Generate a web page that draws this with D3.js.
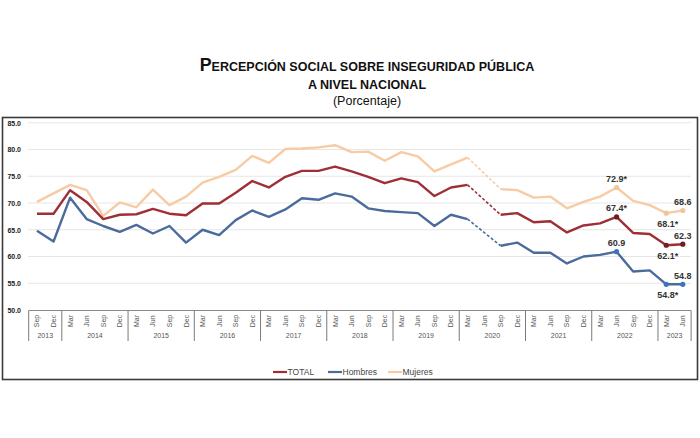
<!DOCTYPE html>
<html><head><meta charset="utf-8">
<script src="https://cdn.jsdelivr.net/npm/d3@7"></script>
<style>body{margin:0;background:#fff;} svg{display:block;font-family:"Liberation Sans",Arial,sans-serif;}</style>
</head><body>
<svg id="c" width="700" height="438"></svg>
<script>
const months = ["Sep","Dec","Mar","Jun","Sep","Dec","Mar","Jun","Sep","Dec","Mar","Jun","Sep","Dec","Mar","Jun","Sep","Dec","Mar","Jun","Sep","Dec","Mar","Jun","Sep","Dec","Mar","Jun","Sep","Dec","Mar","Jun","Sep","Dec","Mar","Jun","Sep","Dec","Mar","Jun"];
const years = ["2013","2013","2014","2014","2014","2014","2015","2015","2015","2015","2016","2016","2016","2016","2017","2017","2017","2017","2018","2018","2018","2018","2019","2019","2019","2019","2020","2020","2020","2020","2021","2021","2021","2021","2022","2022","2022","2022","2023","2023"];
const total = [68.0,68.0,72.4,70.2,67.0,67.8,67.9,68.9,68.0,67.7,69.9,69.9,71.9,74.1,72.9,74.9,76.0,76.0,76.8,75.9,74.9,73.7,74.6,73.9,71.3,72.9,73.4,null,67.8,68.1,66.4,66.6,64.5,65.8,66.2,67.4,64.4,64.2,62.1,62.3];
const hombres = [64.8,62.8,71.0,67.0,65.7,64.6,65.9,64.3,65.7,62.6,65.0,64.0,66.8,68.6,67.4,68.8,70.9,70.6,71.8,71.2,69.0,68.5,68.3,68.1,65.7,67.8,67.0,null,62.0,62.6,60.7,60.7,58.7,60.0,60.3,60.9,57.2,57.4,54.8,54.8];
const mujeres = [70.2,71.8,73.4,72.4,67.6,70.1,69.2,72.5,69.6,71.2,73.8,74.9,76.2,78.8,77.5,80.1,80.2,80.4,80.8,79.5,79.6,77.9,79.5,78.7,75.9,77.2,78.5,null,72.6,72.4,71.0,71.2,69.0,70.2,71.2,72.9,70.4,69.6,68.1,68.6];
const yTicks = [50,55,60,65,70,75,80,85];
const seriesNames = ["TOTAL","Hombres","Mujeres"];
const markerIdx = [35,38,39];
const labels = [
  {s:2,i:35,t:"72.9*",pos:"above"},{s:0,i:35,t:"67.4*",pos:"above"},{s:1,i:35,t:"60.9",pos:"above"},
  {s:2,i:38,t:"68.1*",pos:"below"},{s:0,i:38,t:"62.1*",pos:"below"},{s:1,i:38,t:"54.8*",pos:"below"},
  {s:2,i:39,t:"68.6",pos:"above"},{s:0,i:39,t:"62.3",pos:"above"},{s:1,i:39,t:"54.8",pos:"above"}
];

const colors = ["#9e2f36","#4a6b9b","#f7cba4"];
const dotColors = ["#6e1f22","#3f73bd","#f2c49b"];
const data = [total,hombres,mujeres];

const svg = d3.select("#c");
// frame
svg.append("rect").attr("x",2.5).attr("y",117.5).attr("width",695).attr("height",262).attr("fill","none").attr("stroke","#3a3a3a").attr("stroke-width",1.6);

// title (manual small caps)
const t1 = svg.append("text").attr("x",367).attr("y",70.5).attr("text-anchor","middle").attr("font-weight","bold").attr("fill","#111");
t1.append("tspan").attr("font-size",17.8).text("P");
t1.append("tspan").attr("font-size",12.5).text("ERCEPCIÓN SOCIAL SOBRE INSEGURIDAD PÚBLICA");
svg.append("text").attr("x",367).attr("y",88.5).attr("text-anchor","middle").attr("font-weight","bold").attr("fill","#111")
  .attr("font-size",12.5).text("A NIVEL NACIONAL");
svg.append("text").attr("x",367).attr("y",105).attr("text-anchor","middle").attr("font-size",12.5).attr("fill","#111").text("(Porcentaje)");

const idx = d3.range(months.length);
const x = d3.scaleBand().domain(idx).range([28.7,691.1]).padding(0);
const y = d3.scaleLinear().domain([50,85]).range([310,122.75]);
const cx = i => x(i) + x.bandwidth()/2;

// gridlines
svg.append("g").selectAll("line").data(yTicks.slice(1)).join("line")
  .attr("x1",28).attr("x2",691).attr("y1",d=>y(d)).attr("y2",d=>y(d))
  .attr("stroke","#e6e6e6").attr("stroke-width",1);

// y axis labels
const yAxis = d3.axisLeft(y).tickValues(yTicks).tickFormat(d3.format(".1f")).tickSize(0).tickPadding(0);
const ga = svg.append("g").attr("transform","translate(21,0)").call(yAxis);
ga.select(".domain").remove();
ga.selectAll("text").attr("font-size",7).attr("font-weight","bold").attr("fill","#222").attr("font-family","Liberation Sans, Arial, sans-serif");

// x axis line
svg.append("line").attr("x1",28.7).attr("x2",691.1).attr("y1",310.5).attr("y2",310.5).attr("stroke","#8a8a8a").attr("stroke-width",1);

// month labels
svg.append("g").selectAll("text").data(idx).join("text")
  .attr("transform",i=>`translate(${cx(i)+2.5},321) rotate(-90)`)
  .attr("text-anchor","middle").attr("font-size",7).attr("fill","#555").text(i=>months[i]);

// year separators and labels
const yearGroups = d3.groups(idx, i=>years[i]);
const seps = yearGroups.map(g=>x(g[1][0])).concat([x(idx[idx.length-1])+x.bandwidth()]);
svg.append("g").selectAll("line").data(seps).join("line")
  .attr("x1",d=>d).attr("x2",d=>d).attr("y1",310.5).attr("y2",341)
  .attr("stroke","#7a7a7a").attr("stroke-width",1);
svg.append("g").selectAll("text").data(yearGroups).join("text")
  .attr("x",g=>(x(g[1][0]) + x(g[1][g[1].length-1]) + x.bandwidth())/2)
  .attr("y",337.5).attr("text-anchor","middle").attr("font-size",7).attr("fill","#555").text(g=>g[0]);

// lines
const line = d3.line().defined(d=>d.v!=null).x(d=>cx(d.i)).y(d=>y(d.v));
[2,1,0].forEach(s=>{
  const pts = data[s].map((v,i)=>({i,v}));
  svg.append("path").datum(pts).attr("d",line).attr("fill","none").attr("stroke",colors[s]).attr("stroke-width",2.4).attr("stroke-linejoin","round");
  // dashed bridge over missing values
  const gaps = [];
  pts.forEach((p,i)=>{ if(p.v==null){ let a=i-1,b=i+1; while(b<pts.length && pts[b].v==null) b++; if(a>=0 && b<pts.length && !gaps.some(g=>g[0].i===a)) gaps.push([pts[a],pts[b]]); }});
  gaps.forEach(g=>{
    svg.append("path").datum(g).attr("d",d3.line().x(d=>cx(d.i)).y(d=>y(d.v))).attr("fill","none")
      .attr("stroke",colors[s]).attr("stroke-width",1.6).attr("stroke-dasharray","3,2");
  });
  svg.append("g").selectAll("circle").data(markerIdx).join("circle")
    .attr("cx",i=>cx(i)).attr("cy",i=>y(data[s][i])).attr("r",2.6).attr("fill",dotColors[s]);
});

// value labels
svg.append("g").selectAll("text").data(labels).join("text")
  .attr("x",d=>cx(d.i) + (d.pos==="below"?1.5:0))
  .attr("y",d=>y(data[d.s][d.i]) + (d.pos==="below"?13.5:-5.5))
  .attr("text-anchor","middle").attr("font-size",9).attr("font-weight","bold").attr("fill","#333").text(d=>d.t);

// legend
const lg = svg.append("g").attr("transform","translate(0,372)");
const lx = [273,328,388];
seriesNames.forEach((n,s)=>{
  lg.append("line").attr("x1",lx[s]).attr("x2",lx[s]+14).attr("y1",0).attr("y2",0).attr("stroke",colors[s]).attr("stroke-width",2.2);
  lg.append("text").attr("x",lx[s]+14.5).attr("y",3).attr("font-size",8.5).attr("fill","#444").text(n);
});
</script>
</body></html>
